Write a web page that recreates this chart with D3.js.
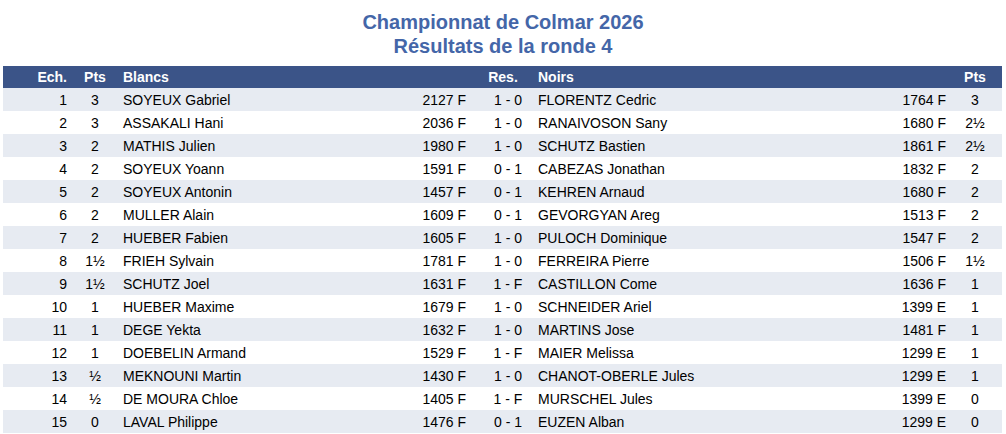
<!DOCTYPE html><html><head><meta charset="utf-8"><script src="https://cdn.jsdelivr.net/npm/d3@7"></script>
<style>body{margin:0;background:#fff}text{font-family:"Liberation Sans",Arial,sans-serif}</style></head><body><svg id="c" width="1006" height="434"></svg>
<script>
const titles=["Championnat de Colmar 2026","Résultats de la ronde 4"];
const headers=["Ech.","Pts","Blancs","Res.","Noirs","Pts"];
const boards=[1,2,3,4,5,6,7,8,9,10,11,12,13,14,15];
const whitePts=["3","3","2","2","2","2","2","1½","1½","1","1","1","½","½","0"];
const whiteNames=["SOYEUX Gabriel","ASSAKALI Hani","MATHIS Julien","SOYEUX Yoann","SOYEUX Antonin","MULLER Alain","HUEBER Fabien","FRIEH Sylvain","SCHUTZ Joel","HUEBER Maxime","DEGE Yekta","DOEBELIN Armand","MEKNOUNI Martin","DE MOURA Chloe","LAVAL Philippe"];
const whiteElo=["2127 F","2036 F","1980 F","1591 F","1457 F","1609 F","1605 F","1781 F","1631 F","1679 F","1632 F","1529 F","1430 F","1405 F","1476 F"];
const results=["1 - 0","1 - 0","1 - 0","0 - 1","0 - 1","0 - 1","1 - 0","1 - 0","1 - F","1 - 0","1 - 0","1 - F","1 - 0","1 - F","0 - 1"];
const blackNames=["FLORENTZ Cedric","RANAIVOSON Sany","SCHUTZ Bastien","CABEZAS Jonathan","KEHREN Arnaud","GEVORGYAN Areg","PULOCH Dominique","FERREIRA Pierre","CASTILLON Come","SCHNEIDER Ariel","MARTINS Jose","MAIER Melissa","CHANOT-OBERLE Jules","MURSCHEL Jules","EUZEN Alban"];
const blackElo=["1764 F","1680 F","1861 F","1832 F","1680 F","1513 F","1547 F","1506 F","1636 F","1399 E","1481 F","1299 E","1299 E","1399 E","1299 E"];
const blackPts=["3","2½","2½","2","2","2","2","1½","1","1","1","1","1","0","0"];

const svg=d3.select("#c");
const y=d3.scaleBand().domain(boards).range([88,433]).padding(0);
svg.selectAll("text.t").data(titles).join("text").attr("x",503).attr("y",(d,i)=>29+i*24)
 .attr("text-anchor","middle").attr("font-size",20).attr("font-weight","bold").attr("fill","#4466a8").text(d=>d);
svg.append("rect").attr("x",3).attr("y",66).attr("width",999).attr("height",22).attr("fill","#3b5488");
const cols=[{x:67,a:"end"},{x:95,a:"middle"},{x:123,a:"start"},{x:503,a:"middle"},{x:538,a:"start"},{x:975,a:"middle"}];
svg.selectAll("text.h").data(headers).join("text").attr("x",(d,i)=>cols[i].x).attr("y",82)
 .attr("text-anchor",(d,i)=>cols[i].a).attr("font-size",14).attr("font-weight","bold").attr("fill","#fff").text(d=>d);
const g=svg.selectAll("g.r").data(boards).join("g").attr("transform",d=>`translate(0,${y(d)})`);
g.append("rect").attr("x",3).attr("width",999).attr("height",y.bandwidth()).attr("fill",(d,i)=>i%2==0?"#e7ebf2":"#fff");
const cells=[
 {x:67,a:"end",v:i=>boards[i]},{x:95,a:"middle",v:i=>whitePts[i]},{x:123,a:"start",v:i=>whiteNames[i]},
 {x:466,a:"end",v:i=>whiteElo[i]},{x:508,a:"middle",v:i=>results[i]},{x:538,a:"start",v:i=>blackNames[i]},
 {x:946,a:"end",v:i=>blackElo[i]},{x:975,a:"middle",v:i=>blackPts[i]}];
g.each(function(d,i){const s=d3.select(this);cells.forEach(c=>s.append("text").attr("x",c.x).attr("y",17)
 .attr("text-anchor",c.a).attr("font-size",14).attr("fill","#000").text(c.v(i)));});
</script></body></html>
